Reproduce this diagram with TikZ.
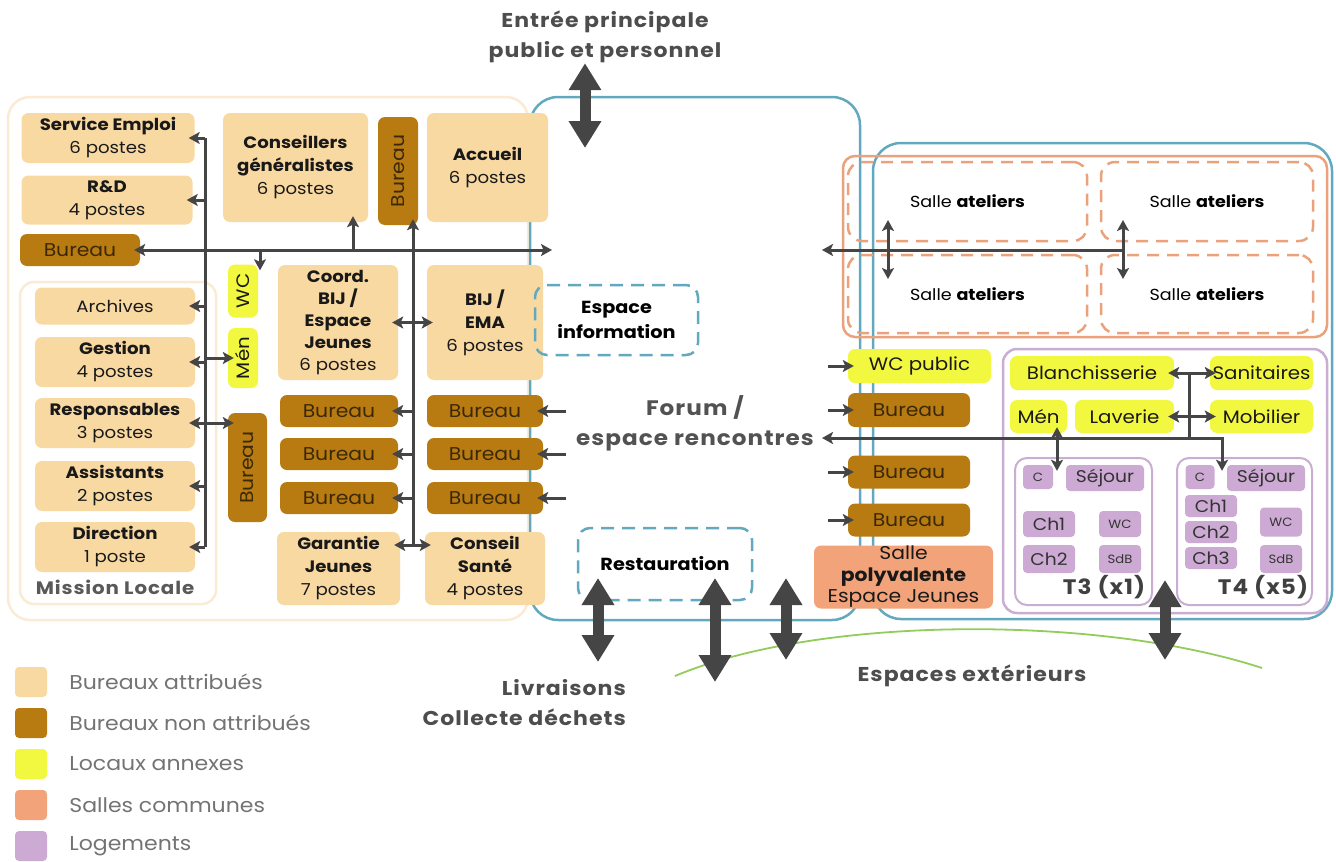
\documentclass[tikz,border=0pt]{standalone}
\usepackage{fontspec}
\setmainfont{Poppins}[FakeStretch=1.1]
\newfontfamily\titlefont{Poppins}[FakeStretch=1.1, LetterSpace=5]
\usepackage{graphicx}
\usetikzlibrary{arrows.meta,positioning}

\definecolor{cAttr}{HTML}{F9D9A2}
\definecolor{cNon}{HTML}{B87B12}
\definecolor{cAnx}{HTML}{F2F740}
\definecolor{cCom}{HTML}{F2A37A}
\definecolor{cLog}{HTML}{CCAAD3}
\definecolor{cLogB}{HTML}{C9ADD3}
\definecolor{cBlue}{HTML}{62A8BE}
\definecolor{cOrg}{HTML}{E9A27C}
\definecolor{cFrame}{HTML}{FBEBD4}
\definecolor{cArr}{HTML}{454545}
\definecolor{cGreen}{HTML}{92CC5C}
\definecolor{cTxt}{HTML}{4D4D4D}
\definecolor{cDark}{HTML}{3B2806}

\tikzset{
  room/.style={rounded corners=7pt, align=center, inner sep=0pt, text=black!90, font=\fontsize{16.5}{23}\selectfont},
  attr/.style={room, fill=cAttr},
  nonattr/.style={room, fill=cNon, text=cDark, font=\fontsize{18.5}{22}\selectfont},
  anx/.style={room, fill=cAnx, font=\fontsize{18}{22}\selectfont},
  com/.style={room, fill=cCom, font=\fontsize{18.5}{21.5}\selectfont},
  logt/.style={room, fill=cLog, rounded corners=4pt, text=black!80, font=\fontsize{17}{20}\selectfont},
  mini/.style={logt, font=\fontsize{12}{14}\selectfont},
  infobox/.style={draw=cBlue, line width=2.5pt, dash pattern=on 13pt off 8pt, rounded corners=12pt, align=center, inner sep=0pt, font=\bfseries\fontsize{17.5}{25}\selectfont},
  atelier/.style={draw=cOrg, line width=2.5pt, dash pattern=on 12pt off 8pt, rounded corners=14pt, inner sep=0pt, font=\fontsize{16}{20}\selectfont},
  titre/.style={align=center, inner sep=0pt, text=cTxt, font=\titlefont\bfseries\fontsize{20}{30}\selectfont},
  fl/.style={draw=cArr, line width=3pt, shorten >=-6pt, -{Stealth[length=11pt,width=12pt,inset=2.5pt]}},
  fl2/.style={draw=cArr, line width=3pt, shorten >=-6pt, shorten <=-6pt, {Stealth[length=11pt,width=12pt,inset=2.5pt]}-{Stealth[length=11pt,width=12pt,inset=2.5pt]}},
  ln/.style={draw=cArr, line width=3pt},
  big/.style={draw=cArr, line width=11pt, {Triangle[length=27pt,width=31pt]}-{Triangle[length=27pt,width=31pt]}},
  leg/.style={rounded corners=4pt, minimum width=32pt, minimum height=30pt, inner sep=0pt},
  legtxt/.style={inner sep=0pt, text=black!55, font=\fontsize{20}{22}\selectfont}
}

\begin{document}
\begin{tikzpicture}[x=1pt,y=-1pt]
\useasboundingbox (0,0) rectangle (1336,862);

% batiments
\draw[cFrame, line width=2.5pt, rounded corners=22pt] (8,97) rectangle (528,620);
\draw[cFrame, line width=2.5pt, rounded corners=14pt] (20,282) rectangle (216,604);
\draw[cBlue, line width=2.5pt, rounded corners=28pt] (530,97) rectangle (860,620);
\draw[cBlue, line width=2.5pt, rounded corners=28pt] (873,143) rectangle (1332,619);
\draw[cOrg, line width=2.5pt, rounded corners=12pt] (843,156) rectangle (1327,337);
\draw[cLogB, line width=2.5pt, rounded corners=14pt] (1003,349) rectangle (1327,613);
\draw[cLogB, line width=2pt, rounded corners=12pt] (1015,458) rectangle (1152,605);
\draw[cLogB, line width=2pt, rounded corners=12pt] (1177,458) rectangle (1312,605);
\draw[cGreen, line width=1.8pt] (675,676) .. controls (820,615) and (1100,615) .. (1262,668);

% mission locale
\node[attr, minimum width=173pt, minimum height=50pt] (semp) at (108,138) {\textbf{Service Emploi}\\6 postes};
\node[attr, minimum width=171pt, minimum height=49pt] (rd) at (107,200) {\textbf{R\&D}\\4 postes};
\node[nonattr, minimum width=120pt, minimum height=32pt] (bur1) at (80,250) {Bureau};
\node[attr, minimum width=160pt, minimum height=37pt] (arch) at (115,306) {Archives};
\node[attr, minimum width=160pt, minimum height=50pt] (gest) at (115,362) {\textbf{Gestion}\\4 postes};
\node[attr, minimum width=160pt, minimum height=50pt] (resp) at (115,423) {\textbf{Responsables}\\3 postes};
\node[attr, minimum width=160pt, minimum height=50pt] (asst) at (115,486) {\textbf{Assistants}\\2 postes};
\node[attr, minimum width=160pt, minimum height=50pt] (dirn) at (115,547) {\textbf{Direction}\\1 poste};
\node[titre, text=black!65, font=\titlefont\bfseries\fontsize{18}{22}\selectfont] (ml) at (115,587) {Mission Locale};

\node[attr, minimum width=145pt, minimum height=109pt] (cg) at (295.5,167.5) {\textbf{Conseillers}\\\textbf{généralistes}\\6 postes};
\node[nonattr, minimum width=40pt, minimum height=108pt] (b3) at (398,171) {\rotatebox{90}{Bureau}};
\node[attr, minimum width=121pt, minimum height=109pt] (acc) at (487.5,167.5) {\textbf{Accueil}\\6 postes};
\node[anx, minimum width=30pt, minimum height=53pt] (wc) at (243,291) {\rotatebox{90}{WC}};
\node[anx, minimum width=30pt, minimum height=60pt] (men) at (243,358) {\rotatebox{90}{Mén}};
\node[nonattr, minimum width=39pt, minimum height=109pt] (bur2) at (247.5,467.5) {\rotatebox{90}{Bureau}};
\node[attr, minimum width=120pt, minimum height=115pt, font=\fontsize{16.5}{22}\selectfont] (coord) at (338,322.5) {\textbf{Coord.}\\\textbf{BIJ /}\\\textbf{Espace}\\\textbf{Jeunes}\\6 postes};
\node[attr, minimum width=116pt, minimum height=115pt] (bij) at (485,322.5) {\textbf{BIJ /}\\\textbf{EMA}\\6 postes};
\foreach \y [count=\i] in {411,454,498}{
  \node[nonattr, minimum width=118pt, minimum height=32pt] (bl\i) at (339,\y) {Bureau};
  \node[nonattr, minimum width=116pt, minimum height=32pt] (br\i) at (485,\y) {Bureau};
}
\node[attr, minimum width=123pt, minimum height=73pt] (gj) at (338.5,568.5) {\textbf{Garantie}\\\textbf{Jeunes}\\7 postes};
\node[attr, minimum width=120pt, minimum height=73pt] (cs) at (485,568.5) {\textbf{Conseil}\\\textbf{Santé}\\4 postes};

% forum
\node[infobox, minimum width=163pt, minimum height=70pt] (einf) at (616.5,320) {Espace\\information};
\node[infobox, minimum width=174pt, minimum height=72pt] (rest) at (665,564) {Restauration};
\node[titre, font=\titlefont\bfseries\fontsize{21}{30}\selectfont, text=black!68] (forum) at (695,423) {Forum /\\espace\ rencontres};
\node[titre] (entree) at (605,37) {Entrée principale\\public et personnel};
\node[titre, align=right, anchor=east] (livr) at (626,703) {Livraisons\\Collecte déchets};
\node[titre] (ext) at (972,676) {Espaces extérieurs};

% ateliers et locaux
\node[atelier, minimum width=239pt, minimum height=79pt] (at1) at (967.5,201.5) {Salle \textbf{ateliers}};
\node[atelier, minimum width=212pt, minimum height=79pt] (at2) at (1207,201.5) {Salle \textbf{ateliers}};
\node[atelier, minimum width=239pt, minimum height=78pt] (at3) at (967.5,294) {Salle \textbf{ateliers}};
\node[atelier, minimum width=212pt, minimum height=78pt] (at4) at (1207,294) {Salle \textbf{ateliers}};
\node[anx, minimum width=143pt, minimum height=34pt] (wcp) at (919.5,366) {WC public};
\node[nonattr, minimum width=122pt, minimum height=34pt] (bur4) at (909,410) {Bureau};
\node[nonattr, minimum width=122pt, minimum height=33pt] (bur5) at (909,472) {Bureau};
\node[nonattr, minimum width=122pt, minimum height=33pt] (bur6) at (909,520) {Bureau};
\node[com, minimum width=179pt, minimum height=63pt] (salle) at (903.5,577) {Salle\\\textbf{polyvalente}\\Espace Jeunes};

% logements
\node[anx, minimum width=164pt, minimum height=34pt] (bla) at (1092,373) {Blanchisserie};
\node[anx, minimum width=103pt, minimum height=34pt] (san) at (1261.5,373) {Sanitaires};
\node[anx, minimum width=57pt, minimum height=33pt] (men2) at (1038.5,416.5) {Mén};
\node[anx, minimum width=99pt, minimum height=33pt] (lav) at (1124.5,416.5) {Laverie};
\node[anx, minimum width=103pt, minimum height=33pt] (mob) at (1261.5,416.5) {Mobilier};
\node[mini, minimum width=30pt, minimum height=24pt] (t3c) at (1038,477) {C};
\node[logt, minimum width=78pt, minimum height=26pt] (t3s) at (1105,478) {Séjour};
\node[logt, minimum width=52pt, minimum height=26pt] (t3ch1) at (1049,524) {Ch1};
\node[mini, minimum width=42pt, minimum height=26pt] (t3wc) at (1120,524) {WC};
\node[logt, minimum width=52pt, minimum height=28pt] (t3ch2) at (1049,559) {Ch2};
\node[mini, minimum width=42pt, minimum height=28pt] (t3sdb) at (1120,559) {SdB};
\node[titre, text=black!75, font=\titlefont\bfseries\fontsize{21}{24}\selectfont] (t3l) at (1104,587) {T3 (x1)};
\node[mini, minimum width=29pt, minimum height=24pt] (t4c) at (1200,477) {C};
\node[logt, minimum width=78pt, minimum height=26pt] (t4s) at (1266,478) {Séjour};
\node[logt, minimum width=52pt, minimum height=22pt] (t4ch1) at (1211,506) {Ch1};
\node[logt, minimum width=52pt, minimum height=22pt] (t4ch2) at (1211,532) {Ch2};
\node[logt, minimum width=52pt, minimum height=22pt] (t4ch3) at (1211,558) {Ch3};
\node[mini, minimum width=42pt, minimum height=29pt] (t4wc) at (1281,522) {WC};
\node[mini, minimum width=42pt, minimum height=28pt] (t4sdb) at (1281,559) {SdB};
\node[titre, text=black!75, font=\titlefont\bfseries\fontsize{21}{24}\selectfont] (t4l) at (1263,587) {T4 (x5)};

% circulations gauche
\coordinate (spA) at (205,138);
\coordinate (spB) at (205,547);
\draw[ln] (spA) -- (spB);
\foreach \n in {semp,rd,arch,gest,asst,dirn} \draw[fl] (spA |- \n) -- (\n);
\draw[fl] (spA |- men) -- (men);
\draw[fl2] (resp) -- (resp -| bur2.west);
\coordinate (hR) at (546,250);
\draw[fl2] (bur1) -- (hR);
\coordinate (jWC) at (260,250);
\draw[fl] (jWC) -- (jWC |- wc.north);
\coordinate (jCG) at (353,250);
\draw[fl] (jCG) -- (jCG |- cg.south);
\coordinate (sp2) at (413,545);
\draw[fl] (sp2) -- (sp2 |- b3.south);
\foreach \n in {bl1,bl2,bl3} \draw[fl] (sp2 |- \n) -- (\n);
\draw[fl2] (sp2 -| gj.east) -- (sp2 -| cs.west);
\draw[fl2] (coord) -- (bij);
\coordinate (fL) at (566,0);
\foreach \n in {br1,br2,br3} \draw[fl] (fL |- \n) -- (\n);

% circulations droite
\coordinate (fR) at (828,0);
\foreach \n in {wcp,bur4,bur5,bur6} \draw[fl] (fR |- \n) -- (\n);
\coordinate (jA) at (1123,250);
\draw[fl] (jA) -- (jA -| fR);
\coordinate (vA1) at (888,226);
\coordinate (vA2) at (888,273);
\draw[fl2] (vA1) -- (vA2);
\draw[fl2] (vA1 -| jA) -- (vA2 -| jA);
\coordinate (jT4) at (1222,438);
\draw[fl2] (jT4 -| fR) -- (jT4) -- (jT4 |- t4s.north);
\coordinate (jB) at (1189,373);
\draw[ln] (jB) -- (jB |- jT4);
\draw[fl2] (bla) -- (san);
\draw[fl2] (lav) -- (mob);
\coordinate (jM) at (1057,0);
\draw[fl2] (jM |- men2.south) -- (jM |- t3s.north);

% acces
\coordinate (entB) at (585,148);
\draw[big] (entree.south -| entB) -- (entB);
\coordinate (ac1) at (598,578);
\coordinate (ac2) at (715,578);
\coordinate (ac3) at (786,578);
\coordinate (ac4) at (1165,580);
\draw[big] (ac1) -- ++(0,84);
\draw[big] (ac2) -- ++(0,104);
\draw[big] (ac3) -- ++(0,82);
\draw[big] (ac4) -- ++(0,80);

% legende
\foreach \c/\t [count=\i] in {cAttr/Bureaux attribués, cNon/Bureaux non attribués, cAnx/Locaux annexes, cCom/Salles communes, cLog/Logements}{
  \node[leg, fill=\c] (lg\i) at (31,641+41*\i) {};
  \node[legtxt, right=22pt of lg\i] (lt\i) {\t};
}
\end{tikzpicture}
\end{document}
